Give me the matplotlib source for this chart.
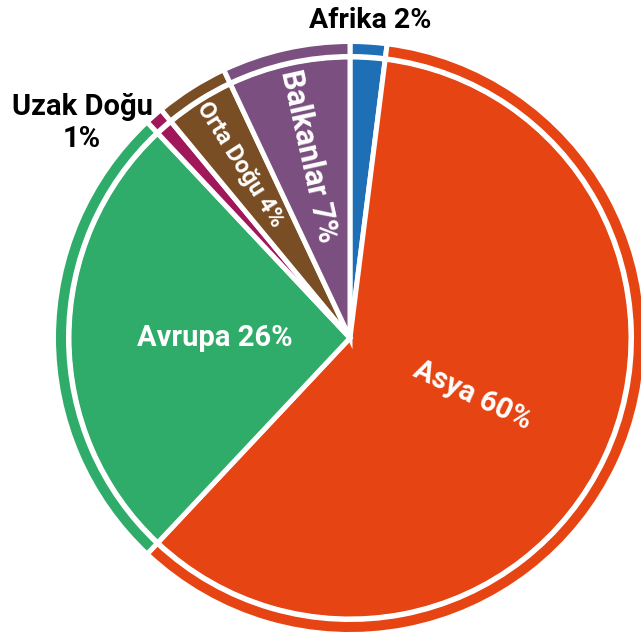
import matplotlib.pyplot as plt
import numpy as np

plt.rcParams['font.family'] = ['Roboto', 'DejaVu Sans']

# share of visitors by region, clockwise from 12 o'clock
regions = ['Afrika', 'Asya', 'Avrupa', 'Uzak Doğu', 'Orta Doğu', 'Balkanlar']
shares = [2, 60, 26, 1, 4, 7]
colors = ['#1f6fb7', '#e64412', '#2fac69', '#a0175a', '#7a4e24', '#7b5080']

fig = plt.figure(figsize=(6.41, 6.37), dpi=100)
ax = fig.add_axes([0, 0, 1, 1])

center = (350, 299)
edge = dict(edgecolor='white', linewidth=3.6)

# main pie
wedges, _ = ax.pie(shares, colors=colors, startangle=90, counterclock=False,
                   center=center, radius=281, wedgeprops=edge, frame=True)
# thin outer ring
ax.pie(shares, colors=colors, startangle=90, counterclock=False,
       center=center, radius=296.5, wedgeprops=dict(width=15, **edge), frame=True)

ax.set_xlim(0, 641)
ax.set_ylim(0, 637)
ax.set_aspect('equal')
ax.axis('off')

# labels inside the slices, along the radius
inside = {'Asya': (135, 21), 'Avrupa': (135, 21), 'Orta Doğu': (205, 17),
          'Balkanlar': (187, 22)}
for w, name, share in zip(wedges, regions, shares):
    if name not in inside:
        continue
    r, size = inside[name]
    mid = (w.theta1 + w.theta2) / 2
    x = center[0] + r * np.cos(np.radians(mid))
    y = center[1] + r * np.sin(np.radians(mid))
    rot = mid % 360
    if 90 < rot <= 270:
        rot -= 180
    ax.text(x, y, '%s %d%%' % (name, share), color='white', fontsize=size,
            fontweight='bold', rotation=rot, rotation_mode='anchor',
            ha='center', va='center')

# labels outside the small slices
ax.text(370, 616, 'Afrika 2%', fontsize=20.5, fontweight='bold',
        ha='center', va='center')
ax.text(82, 514, 'Uzak Doğu\n1%', fontsize=21, fontweight='bold',
        ha='center', va='center', linespacing=1.2)

plt.savefig('out.png', dpi=100)
